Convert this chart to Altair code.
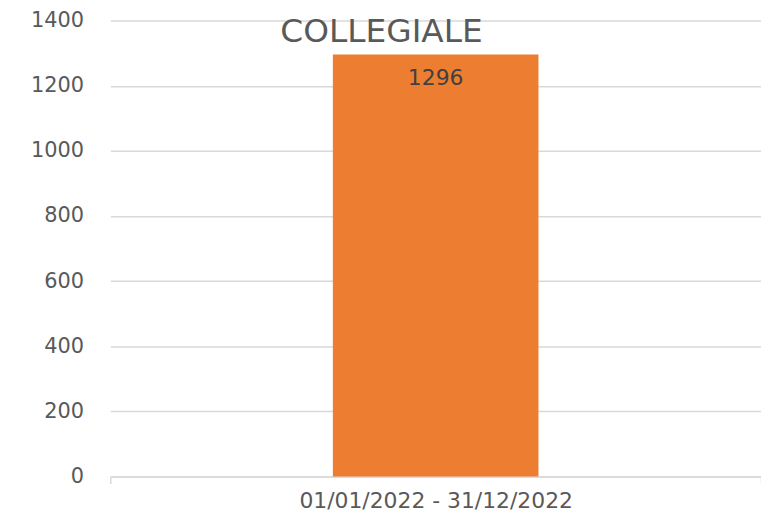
import altair as alt
import pandas as pd

categories = ["01/01/2022 - 31/12/2022"]
values = [1296]
title_text = "COLLEGIALE"
y_ticks = [0, 200, 400, 600, 800, 1000, 1200, 1400]

df = pd.DataFrame({"periodo": categories, "valore": values})

FONT = "DejaVu Sans"

base = alt.Chart(df).encode(
    x=alt.X(
        "periodo:N",
        title=None,
        scale=alt.Scale(paddingInner=0, paddingOuter=0),
        axis=alt.Axis(
            labelAngle=0,
            labelFont=FONT,
            labelFontSize=22,
            labelColor="#595959",
            labelLimit=0,
            domainColor="#d9d9d9",
            domainWidth=1.5,
            tickColor="#d9d9d9",
            tickWidth=1.5,
            tickSize=7,
            tickBand="extent",
            labelPadding=7,
            grid=False,
        ),
    ),
)

bars = base.mark_bar(color="#ED7D31", width=alt.RelativeBandSize(0.316)).encode(
    y=alt.Y(
        "valore:Q",
        title=None,
        scale=alt.Scale(domain=[0, 1400], nice=False),
        axis=alt.Axis(
            values=y_ticks,
            format="d",
            labelFont=FONT,
            labelFontSize=21,
            labelColor="#595959",
            labelPadding=27,
            ticks=False,
            domain=False,
            gridColor="#d9d9d9",
            gridWidth=1.5,
        ),
    )
)

labels = base.mark_text(
    baseline="top", dy=14, font=FONT, fontSize=22, color="#404040"
).encode(y="valore:Q", text="valore:Q")

title_df = pd.DataFrame({"t": [title_text]})
title = alt.Chart(title_df).mark_text(
    font=FONT, fontSize=33, color="#595959", baseline="alphabetic", align="center"
).encode(x=alt.value(273), y=alt.value(22), text="t:N")

chart = (
    alt.layer(bars, labels, title)
    .properties(
        width=655,
        height=459,
        autosize=alt.AutoSizeParams(type="none"),
        padding={"left": 103, "top": 11, "right": 0, "bottom": 37},
    )
    .configure_view(stroke=None)
)

chart.save("out.html", embed_options={"renderer": "svg", "actions": False})
